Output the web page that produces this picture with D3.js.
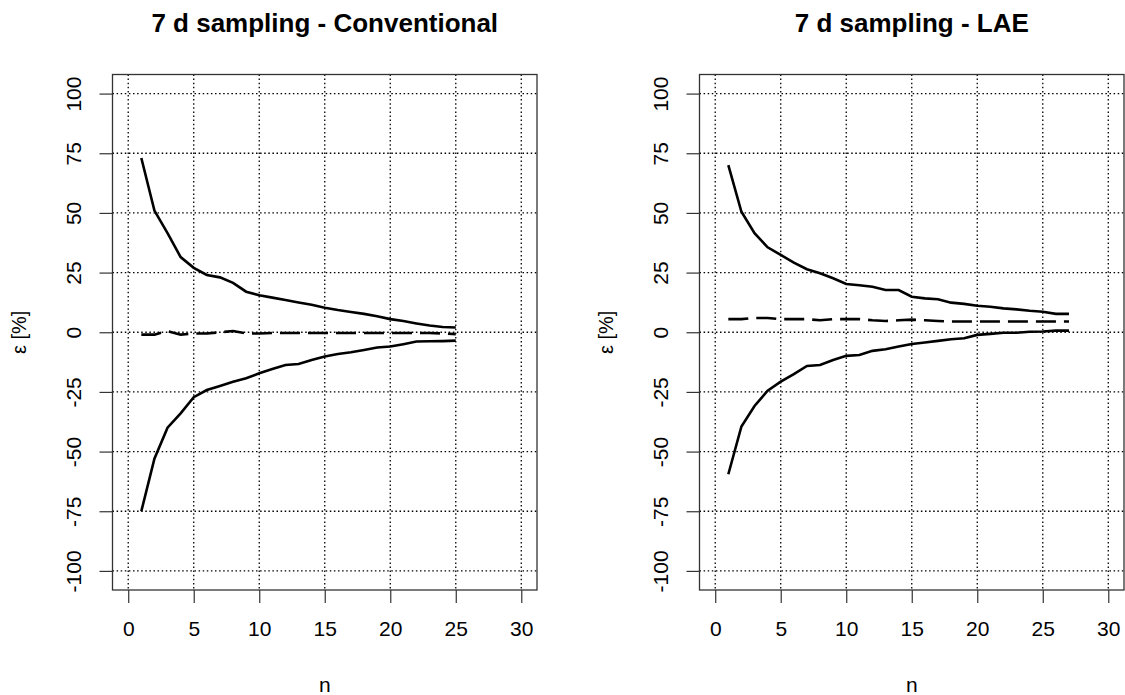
<!DOCTYPE html>
<html>
<head>
<meta charset="utf-8">
<script src="https://cdn.jsdelivr.net/npm/d3@7"></script>
<style>
  body { margin: 0; background: #fff; }
  text { font-family: "Liberation Sans", Arial, sans-serif; fill: #000; }
</style>
</head>
<body>
<div id="chart"></div>
<script>
'use strict'

// sample sizes
const nConv = d3.range(1, 26)
const nLae = d3.range(1, 28)

// 7 d sampling - Conventional
const convUpper = [73, 51, 41.5, 31.5, 27, 24, 23, 20.7, 17, 15.5, 14.5, 13.5, 12.5, 11.5, 10.3, 9.3, 8.5, 7.7, 6.7, 5.5, 4.7, 3.7, 2.8, 2.2, 2]
const convMid = [-1, -1, 0.5, -1, -0.5, -0.5, 0, 0.5, -0.5, -0.5, -0.3, -0.3, -0.3, -0.3, -0.3, -0.3, -0.3, -0.3, -0.3, -0.3, -0.3, -0.3, -0.3, -0.5, -0.8]
const convLower = [-75, -53, -40, -34, -27.2, -24.2, -22.5, -20.7, -19.3, -17.2, -15.4, -13.7, -13.3, -11.6, -10.2, -9.1, -8.4, -7.4, -6.4, -6, -5, -3.9, -3.8, -3.7, -3.5]

// 7 d sampling - LAE
const laeUpper = [70, 50.5, 41.5, 35.6, 32.4, 29.2, 26.4, 24.7, 22.6, 20.2, 19.7, 19.1, 17.7, 17.7, 14.9, 14.2, 13.8, 12.4, 11.9, 11.1, 10.7, 10, 9.6, 9, 8.6, 7.7, 7.7]
const laeMid = [5.5, 5.5, 6, 6, 5.5, 5.5, 5.5, 5, 5.5, 5.5, 5.5, 5, 4.7, 5, 5.3, 5, 4.7, 4.5, 4.5, 4.5, 4.5, 4.5, 4.5, 4.5, 4.5, 4.5, 4.5]
const laeLower = [-59.5, -39.5, -30.9, -24.5, -20.7, -17.5, -14.1, -13.7, -11.6, -9.9, -9.5, -7.8, -7.1, -6, -4.9, -4.3, -3.6, -2.9, -2.5, -1.1, -0.7, -0.2, -0.2, 0.2, 0.3, 0.7, 0.7]

// ticks
const xTicks = [0, 5, 10, 15, 20, 25, 30]
const yTicks = [-100, -75, -50, -25, 0, 25, 50, 75, 100]

const panels = [
    { title: '7 d sampling - Conventional', n: nConv, upper: convUpper, mid: convMid, lower: convLower, left: 112.5 },
    { title: '7 d sampling - LAE', n: nLae, upper: laeUpper, mid: laeMid, lower: laeLower, left: 699.5 }
]

const svgWidth = 1125
const svgHeight = 695
const boxWidth = 424.5
const boxTop = 74.5
const boxBottom = 590

const svg = d3.select('#chart')
    .append('svg')
    .attr('width', svgWidth)
    .attr('height', svgHeight)

panels.forEach(function (p) {

    // R style: axis range padded 4% on each side
    const xScale = d3.scaleLinear()
        .domain([-1.2, 31.2])
        .range([p.left, p.left + boxWidth])

    const yScale = d3.scaleLinear()
        .domain([-108, 108])
        .range([boxBottom, boxTop])

    const g = svg.append('g')

    // dotted grid
    g.selectAll('.vgrid')
        .data(xTicks)
        .join('line')
        .attr('x1', d => xScale(d))
        .attr('x2', d => xScale(d))
        .attr('y1', boxTop)
        .attr('y2', boxBottom)
        .attr('stroke', '#000')
        .attr('stroke-width', 1.3)
        .attr('stroke-dasharray', '1.5,2.6')

    g.selectAll('.hgrid')
        .data(yTicks)
        .join('line')
        .attr('x1', p.left)
        .attr('x2', p.left + boxWidth)
        .attr('y1', d => yScale(d))
        .attr('y2', d => yScale(d))
        .attr('stroke', '#000')
        .attr('stroke-width', 1.3)
        .attr('stroke-dasharray', '1.5,2.6')

    // axes (plain hyphen minus like R)
    const xAxis = d3.axisBottom(xScale)
        .tickValues(xTicks)
        .tickFormat(d => String(d))
        .tickSize(13)
        .tickPadding(18)

    const xg = g.append('g')
        .attr('transform', `translate(0,${boxBottom})`)
        .call(xAxis)
    xg.select('.domain').remove()
    xg.selectAll('line').attr('stroke', '#333').attr('stroke-width', 1.2)
    xg.selectAll('text').attr('font-size', 21).attr('font-family', '"Liberation Sans", Arial, sans-serif').attr('fill', '#111')

    const yAxis = d3.axisLeft(yScale)
        .tickValues(yTicks)
        .tickFormat(d => String(d))
        .tickSize(13)

    const yg = g.append('g')
        .attr('transform', `translate(${p.left},0)`)
        .call(yAxis)
    yg.select('.domain').remove()
    yg.selectAll('line').attr('stroke', '#333').attr('stroke-width', 1.2)
    yg.selectAll('text')
        .attr('font-size', 21)
        .attr('font-family', '"Liberation Sans", Arial, sans-serif')
        .attr('fill', '#111')
        .attr('x', null)
        .attr('dy', null)
        .attr('text-anchor', 'middle')
        .attr('transform', 'translate(-40,0) rotate(-90) translate(0,8)')

    // box
    g.append('rect')
        .attr('x', p.left)
        .attr('y', boxTop)
        .attr('width', boxWidth)
        .attr('height', boxBottom - boxTop)
        .attr('fill', 'none')
        .attr('stroke', '#333')
        .attr('stroke-width', 1.3)

    // lines
    const line = d3.line()
        .x(d => xScale(d[0]))
        .y(d => yScale(d[1]))

    const series = [
        { v: p.upper, dash: null },
        { v: p.lower, dash: null },
        { v: p.mid, dash: '20,8' }
    ]

    series.forEach(function (s) {
        g.append('path')
            .datum(p.n.map((n, i) => [n, s.v[i]]))
            .attr('d', line)
            .attr('fill', 'none')
            .attr('stroke', '#000')
            .attr('stroke-width', 2.6)
            .attr('stroke-dasharray', s.dash)
    })

    // titles and labels
    const cx = p.left + boxWidth / 2
    g.append('text')
        .attr('x', cx)
        .attr('y', 32)
        .attr('text-anchor', 'middle')
        .attr('font-size', 26)
        .attr('font-weight', 'bold')
        .text(p.title)

    g.append('text')
        .attr('x', cx)
        .attr('y', 692)
        .attr('text-anchor', 'middle')
        .attr('font-size', 21)
        .attr('fill', '#111')
        .text('n')

    g.append('text')
        .attr('transform', `translate(${p.left - 87},${yScale(0)}) rotate(-90)`)
        .attr('text-anchor', 'middle')
        .attr('font-size', 20)
        .attr('fill', '#111')
        .text('ε [%]')
})
</script>
</body>
</html>
